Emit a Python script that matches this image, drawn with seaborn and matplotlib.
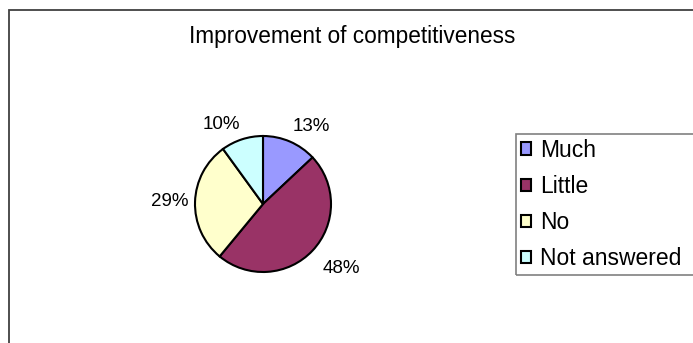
import matplotlib
matplotlib.use("Agg")
import numpy as np
import matplotlib.pyplot as plt
from matplotlib.patches import Rectangle, Patch
import seaborn as sns

categories = ["Much", "Little", "No", "Not answered"]
values = [13, 48, 29, 10]
colors = ["#9999FF", "#993366", "#FFFFCC", "#CCFFFF"]
title = "Improvement of competitiveness"

sns.set_theme(style="white")
plt.rcParams['font.family'] = ['Liberation Sans', 'DejaVu Sans']
plt.rcParams['text.color'] = 'black'

W, H = 693, 343
fig = plt.figure(figsize=(W / 100, H / 100), dpi=100)
fig.patch.set_facecolor("white")

# outer chart border (extends beyond right/bottom edge)
fig.patches.append(Rectangle((9 / W, -0.2), 1.2, (H - 10) / H + 0.2, fill=False,
                             edgecolor="#404040", lw=1.3, transform=fig.transFigure))

fig.text(352 / W, 1 - 36 / H, title, ha="center", va="center", fontsize=16.3,
         color="black")

cx, cy, r = 263, 204, 68
ax = fig.add_axes([(cx - r) / W, (H - cy - r) / H, 2 * r / W, 2 * r / H])
wedges, texts = ax.pie(
    values, colors=colors, startangle=90, counterclock=False,
    wedgeprops=dict(edgecolor="black", linewidth=1.5))
ax.set_xlim(-1, 1)
ax.set_ylim(-1, 1)
ax.set_aspect("equal")
ax.axis("off")

total = sum(values)
for w, v in zip(wedges, values):
    mid = np.deg2rad((w.theta1 + w.theta2) / 2)
    c, s = np.cos(mid), np.sin(mid)
    ha = "left" if c >= 0 else "right"
    va = "bottom" if s > 0.3 else ("top" if s < -0.3 else "center")
    rad = 1.1 if s > -0.3 else 1.2
    ax.text(rad * c, rad * s, f"{v / total * 100:.0f}%", ha=ha, va=va,
            fontsize=13.5, color="black", clip_on=False)

handles = [Patch(facecolor=c, edgecolor="black", linewidth=1.5) for c in colors]
leg = fig.legend(handles, categories, loc="upper left",
                 bbox_to_anchor=(516 / W, 1 - 134 / H), fontsize=16.5,
                 frameon=False, labelcolor="black",
                 handlelength=0.45, handleheight=0.45, handletextpad=0.4,
                 borderpad=0.2, labelspacing=0.58, borderaxespad=0)

# legend frame that runs past the right edge, as in the reference
fig.canvas.draw()
bb = leg.get_window_extent()
fig.patches.append(Rectangle((bb.x0 / W, bb.y0 / H), (W + 30 - bb.x0) / W, bb.height / H,
                             fill=False, edgecolor="#808080", lw=1.2,
                             transform=fig.transFigure))

fig.savefig("out.png", dpi=100)
